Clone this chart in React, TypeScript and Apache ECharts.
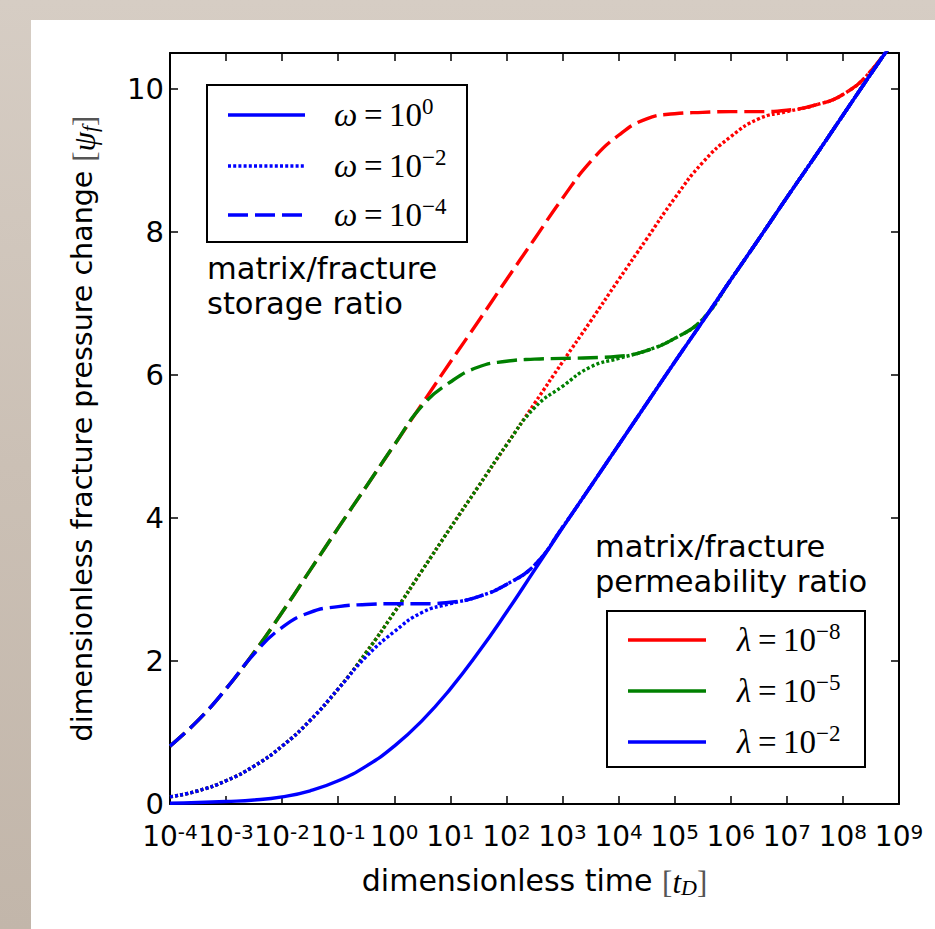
import React, { useEffect, useRef } from "react";
import * as echarts from "echarts";

// log10 of dimensionless time t_D
const timeExponents = [-4, -3.5, -3, -2.5, -2, -1.5, -1, -0.5, 0, 0.5, 1, 1.5, 2, 2.5, 3, 3.5, 4, 4.5, 5, 5.5, 6, 6.5, 7, 7.5, 8, 8.5, 9];

// omega = 1 (all lambda coincide)
const solidOmega0 = [0.01, 0.02, 0.035, 0.055, 0.10, 0.185, 0.325, 0.53, 0.81, 1.17, 1.61, 2.12, 2.68, 3.27, 3.86, 4.44, 5.02, 5.60, 6.18, 6.75, 7.33, 7.90, 8.48, 9.05, 9.63, 10.21, 10.78];

// omega = 1e-2
const dottedLambda8 = [0.10, 0.185, 0.325, 0.53, 0.81, 1.17, 1.61, 2.12, 2.68, 3.27, 3.86, 4.44, 5.02, 5.60, 6.18, 6.75, 7.33, 7.90, 8.47, 8.97, 9.33, 9.58, 9.68, 9.77, 9.92, 10.25, 10.80];
const dottedLambda5 = [0.10, 0.185, 0.325, 0.53, 0.81, 1.17, 1.61, 2.12, 2.68, 3.27, 3.86, 4.44, 5.02, 5.54, 5.84, 6.11, 6.23, 6.34, 6.51, 6.78, 7.33, 7.90, 8.48, 9.05, 9.63, 10.21, 10.78];
const dottedLambda2 = [0.10, 0.185, 0.325, 0.53, 0.81, 1.17, 1.61, 2.06, 2.41, 2.68, 2.80, 2.90, 3.07, 3.34, 3.87, 4.44, 5.02, 5.60, 6.18, 6.75, 7.33, 7.90, 8.48, 9.05, 9.63, 10.21, 10.78];

// omega = 1e-4
const dashedLambda8 = [0.81, 1.17, 1.61, 2.12, 2.68, 3.27, 3.86, 4.44, 5.02, 5.60, 6.18, 6.75, 7.33, 7.90, 8.47, 8.98, 9.35, 9.58, 9.65, 9.67, 9.68, 9.68, 9.70, 9.77, 9.92, 10.25, 10.80];
const dashedLambda5 = [0.81, 1.17, 1.61, 2.12, 2.68, 3.27, 3.86, 4.44, 5.02, 5.57, 5.90, 6.11, 6.19, 6.22, 6.23, 6.24, 6.26, 6.34, 6.51, 6.78, 7.33, 7.90, 8.48, 9.05, 9.63, 10.21, 10.78];
const dashedLambda2 = [0.81, 1.17, 1.61, 2.10, 2.47, 2.68, 2.76, 2.79, 2.80, 2.80, 2.82, 2.90, 3.07, 3.34, 3.87, 4.44, 5.02, 5.60, 6.18, 6.75, 7.33, 7.90, 8.48, 9.05, 9.63, 10.21, 10.78];

const omegaLegendExponents = ["0", "−2", "−4"];
const lambdaLegendExponents = ["−8", "−5", "−2"];

const RED = "#ff0000";
const GREEN = "#008000";
const BLUE = "#0000ff";
const SANS = "'DejaVu Sans', 'Noto Sans', sans-serif";
const SERIF = "'Liberation Serif', 'DejaVu Serif', serif";
const LW = 3.4;
const DOTTED = [3, 2.2];
const DASHED = [20, 7];

function mkSeries(name: string, vals: number[], color: string, type: any) {
  return {
    name,
    type: "line",
    data: timeExponents.map((t, i) => [t, vals[i]]),
    showSymbol: false,
    symbol: "none",
    smooth: 0.5,
    clip: true,
    silent: true,
    lineStyle: { color, width: LW, type, cap: "butt", join: "round" },
  };
}

function legendLine(x1: number, x2: number, y: number, color: string, dash: any) {
  return {
    type: "line",
    z: 101,
    shape: { x1, y1: y, x2, y2: y },
    style: { stroke: color, lineWidth: LW, lineDash: dash, lineCap: "butt" },
  };
}

function mathLabel(x: number, y: number, sym: string, exp: string) {
  return {
    type: "text",
    z: 101,
    x,
    y,
    style: {
      text: `{g|${sym}}{e|\u2009=\u2009}{n|10}{s|${exp}}`,
      verticalAlign: "middle",
      align: "left",
      rich: {
        g: { fontFamily: SERIF, fontStyle: "italic", fontSize: 33, fill: "#000", lineHeight: 36, verticalAlign: "bottom" },
        e: { fontFamily: SERIF, fontSize: 33, fill: "#000", lineHeight: 36, verticalAlign: "bottom" },
        n: { fontFamily: SERIF, fontSize: 33, fill: "#000", lineHeight: 36, verticalAlign: "bottom" },
        s: { fontFamily: SERIF, fontSize: 23, fill: "#000", lineHeight: 12, verticalAlign: "top" },
      },
    },
  };
}

const nameRich = {
  m: { fontFamily: SERIF, fontSize: 31, color: "#555", lineHeight: 36, verticalAlign: "bottom" },
  i: { fontFamily: SERIF, fontStyle: "italic", fontSize: 31, color: "#000", lineHeight: 36, verticalAlign: "bottom" },
  sub: { fontFamily: SERIF, fontStyle: "italic", fontSize: 22, color: "#000", lineHeight: 16, verticalAlign: "bottom" },
};

export default function App() {
  const ref = useRef<HTMLDivElement>(null);
  useEffect(() => {
    const chart = echarts.init(ref.current!, null, { renderer: "svg" });
    const axisLineStyle = { color: "#000", width: 2 };
    const tick = { show: true, inside: true, length: 8, lineStyle: { color: "#000", width: 1.5 } };
    const option: any = {
      animation: false,
      backgroundColor: "transparent",
      grid: { left: 170, right: 36, top: 53, bottom: 125, containLabel: false, outerBoundsMode: "none" },
      xAxis: [
        {
          type: "value",
          min: -4,
          max: 9,
          interval: 1,
          position: "bottom",
          axisLine: { show: true, onZero: false, lineStyle: axisLineStyle },
          axisTick: tick,
          splitLine: { show: false },
          axisLabel: {
            margin: 18,
            formatter: (v: number) => `{b|10}{s|${v < 0 ? "-" + Math.abs(v) : v}}`,
            rich: {
              b: { fontFamily: SANS, fontSize: 28, color: "#000", lineHeight: 28, verticalAlign: "bottom" },
              s: { fontFamily: SANS, fontSize: 20, color: "#000", lineHeight: 12, verticalAlign: "top" },
            },
          },
          name: "dimensionless time {m|[}{i|t}{sub|D}{m|]}",
          nameLocation: "middle",
          nameGap: 58,
          nameTextStyle: { fontFamily: SANS, fontSize: 30, color: "#000", lineHeight: 36, rich: nameRich },
        },
        {
          type: "value",
          min: -4,
          max: 9,
          interval: 1,
          position: "top",
          axisLine: { show: true, onZero: false, lineStyle: axisLineStyle },
          axisTick: tick,
          axisLabel: { show: false },
          splitLine: { show: false },
        },
      ],
      yAxis: [
        {
          type: "value",
          min: 0,
          max: 10.5,
          interval: 2,
          position: "left",
          axisLine: { show: true, onZero: false, lineStyle: axisLineStyle },
          axisTick: tick,
          splitLine: { show: false },
          axisLabel: { margin: 6, fontFamily: SANS, fontSize: 29, lineHeight: 20, color: "#000", showMaxLabel: false, padding: [0, 0, 4, 0] },
          name: "dimensionless fracture pressure change {m|[}{i|ψ}{sub|f}{m|]}",
          nameLocation: "middle",
          nameRotate: 90,
          nameGap: 70,
          nameTextStyle: { fontFamily: SANS, fontSize: 28.5, color: "#000", lineHeight: 36, rich: nameRich },
        },
        {
          type: "value",
          min: 0,
          max: 10.5,
          interval: 2,
          position: "right",
          axisLine: { show: true, onZero: false, lineStyle: axisLineStyle },
          axisTick: tick,
          axisLabel: { show: false },
          splitLine: { show: false },
        },
      ],
      series: [
        mkSeries("ω=1e-2, λ=1e-8", dottedLambda8, RED, DOTTED),
        mkSeries("ω=1e-4, λ=1e-8", dashedLambda8, RED, DASHED),
        mkSeries("ω=1e-2, λ=1e-5", dottedLambda5, GREEN, DOTTED),
        mkSeries("ω=1e-4, λ=1e-5", dashedLambda5, GREEN, DASHED),
        mkSeries("ω=1", solidOmega0, BLUE, "solid"),
        mkSeries("ω=1e-2, λ=1e-2", dottedLambda2, BLUE, DOTTED),
        mkSeries("ω=1e-4, λ=1e-2", dashedLambda2, BLUE, DASHED),
      ],
      graphic: [
        { type: "rect", z: -100, silent: true, shape: { x: 31, y: 20, width: 904, height: 909 }, style: { fill: "#ffffff" } },
        // omega legend
        { type: "rect", z: 100, shape: { x: 207, y: 85, width: 260, height: 157 }, style: { fill: "#fff", stroke: "#000", lineWidth: 2 } },
        legendLine(228, 305, 115, BLUE, null),
        legendLine(228, 305, 166, BLUE, DOTTED),
        legendLine(228, 305, 215, BLUE, DASHED),
        mathLabel(334, 113, "ω", omegaLegendExponents[0]),
        mathLabel(334, 164, "ω", omegaLegendExponents[1]),
        mathLabel(334, 213, "ω", omegaLegendExponents[2]),
        // lambda legend
        { type: "rect", z: 100, shape: { x: 607, y: 611, width: 258, height: 156 }, style: { fill: "#fff", stroke: "#000", lineWidth: 2 } },
        legendLine(628, 706, 640, RED, null),
        legendLine(628, 706, 691, GREEN, null),
        legendLine(628, 706, 742, BLUE, null),
        mathLabel(737, 638, "λ", lambdaLegendExponents[0]),
        mathLabel(737, 689, "λ", lambdaLegendExponents[1]),
        mathLabel(737, 740, "λ", lambdaLegendExponents[2]),
        // annotations
        {
          type: "text",
          z: 101,
          x: 207,
          y: 251,
          style: { text: "matrix/fracture\nstorage ratio", fontFamily: SANS, fontSize: 30.5, lineHeight: 35, fill: "#000", verticalAlign: "top" },
        },
        {
          type: "text",
          z: 101,
          x: 595,
          y: 529,
          style: { text: "matrix/fracture\npermeability ratio", fontFamily: SANS, fontSize: 30.5, lineHeight: 35, fill: "#000", verticalAlign: "top" },
        },
      ],
    };
    chart.setOption(option);
    return () => chart.dispose();
  }, []);
  return (
    <div
      style={{
        position: "absolute",
        left: 0,
        top: 0,
        width: 935,
        height: 929,
        background: "linear-gradient(180deg, #d6cdc4 0%, #cbc0b5 50%, #c2b6aa 100%)",
      }}
    >
      <div ref={ref} style={{ width: 935, height: 929 }} />
    </div>
  );
}
